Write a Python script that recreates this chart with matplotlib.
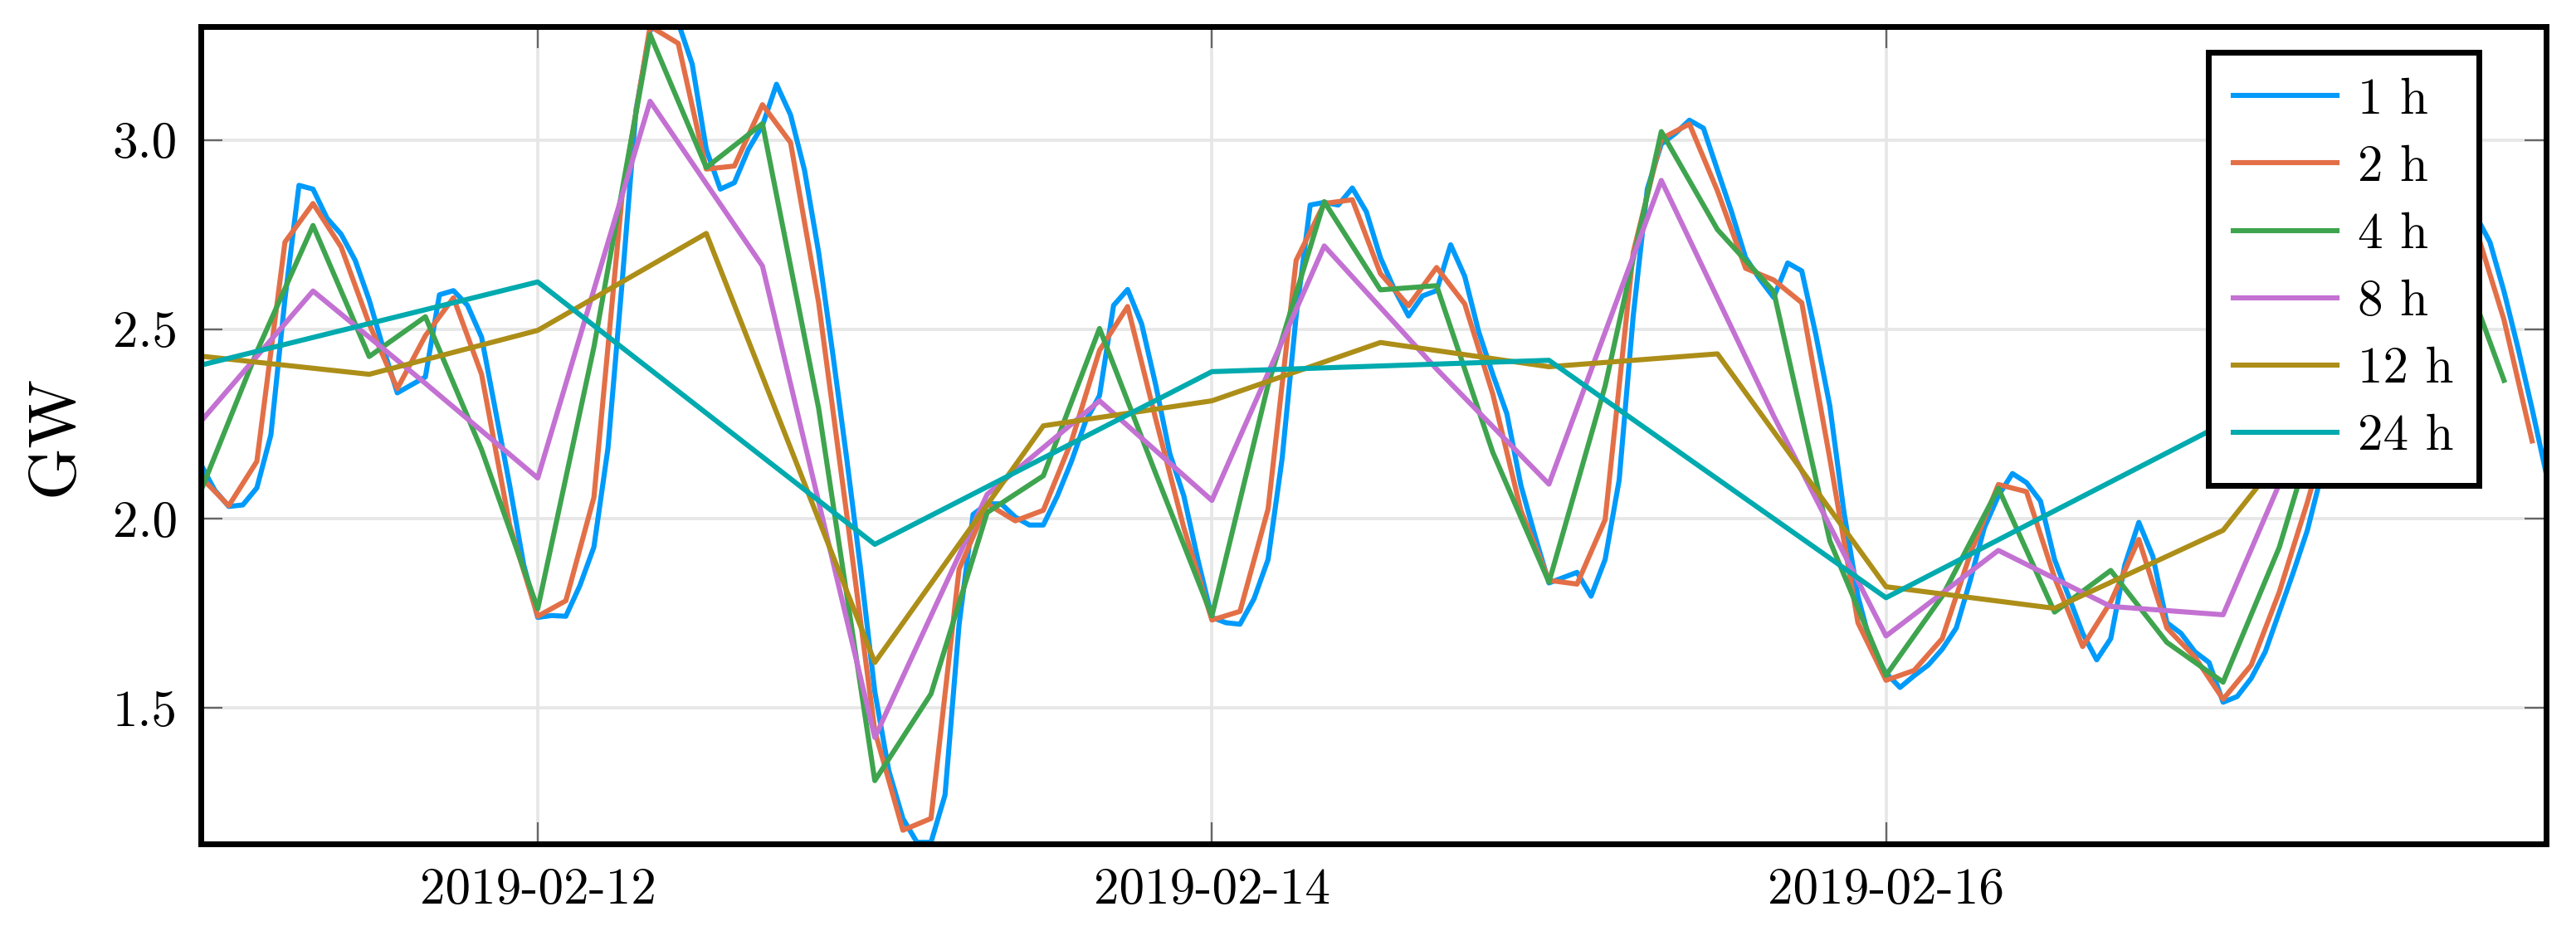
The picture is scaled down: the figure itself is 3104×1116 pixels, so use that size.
import pandas as pd
import matplotlib
matplotlib.use('Agg')
import matplotlib.pyplot as plt
import matplotlib.dates as mdates

plt.rcParams['font.family'] = ['cmr10', 'DejaVu Serif']
plt.rcParams['mathtext.fontset'] = 'cm'
plt.rcParams['axes.formatter.use_mathtext'] = True

start = '2019-02-11 00:00'

load_1h = [
    2.144, 2.075, 2.032, 2.036, 2.081, 2.221, 2.580, 2.880, 2.870, 2.793, 2.751, 2.682,
    2.577, 2.450, 2.332, 2.353, 2.374, 2.591, 2.602, 2.563, 2.479, 2.283, 2.088, 1.878,
    1.739, 1.744, 1.742, 1.823, 1.925, 2.186, 2.620, 3.080, 3.290, 3.310, 3.310, 3.200,
    2.975, 2.870, 2.887, 2.975, 3.038, 3.147, 3.066, 2.919, 2.703, 2.437, 2.158, 1.864,
    1.543, 1.334, 1.208, 1.145, 1.145, 1.270, 1.720, 2.011, 2.039, 2.039, 2.004, 1.983,
    1.983, 2.060, 2.151, 2.256, 2.325, 2.563, 2.605, 2.514, 2.353, 2.172, 2.060, 1.892,
    1.739, 1.725, 1.721, 1.788, 1.892, 2.158, 2.535, 2.828, 2.835, 2.828, 2.873, 2.810,
    2.689, 2.605, 2.535, 2.588, 2.602, 2.723, 2.640, 2.493, 2.381, 2.277, 2.088, 1.955,
    1.830, 1.844, 1.858, 1.795, 1.892, 2.102, 2.535, 2.870, 2.989, 3.017, 3.052, 3.031,
    2.920, 2.810, 2.689, 2.633, 2.584, 2.675, 2.654, 2.486, 2.297, 2.018, 1.795, 1.655,
    1.592, 1.554, 1.585, 1.613, 1.655, 1.711, 1.837, 1.976, 2.060, 2.119, 2.095, 2.046,
    1.892, 1.795, 1.697, 1.627, 1.683, 1.877, 1.990, 1.900, 1.725, 1.697, 1.648, 1.620,
    1.515, 1.530, 1.578, 1.648, 1.753, 1.858, 1.969, 2.116, 2.250, 2.360, 2.470, 2.580,
    2.520, 2.440, 2.400, 2.470, 2.760, 2.790, 2.800, 2.730, 2.600, 2.450, 2.290, 2.120,
]

load_2h = [
    2.110, 2.034, 2.151, 2.730, 2.832, 2.717, 2.514, 2.343, 2.483, 2.583, 2.381, 1.983,
    1.742, 1.783, 2.056, 2.850, 3.300, 3.255, 2.923, 2.931, 3.093, 2.993, 2.570, 2.011,
    1.439, 1.177, 1.208, 1.866, 2.039, 1.994, 2.022, 2.204, 2.444, 2.560, 2.263, 1.976,
    1.732, 1.755, 2.025, 2.682, 2.832, 2.842, 2.647, 2.562, 2.663, 2.567, 2.329, 2.022,
    1.837, 1.827, 1.997, 2.703, 3.003, 3.042, 2.865, 2.661, 2.630, 2.570, 2.158, 1.725,
    1.573, 1.599, 1.683, 1.907, 2.090, 2.071, 1.844, 1.662, 1.780, 1.945, 1.711, 1.634,
    1.523, 1.613, 1.806, 2.043, 2.305, 2.525, 2.480, 2.435, 2.775, 2.765, 2.525, 2.205,
]

load_4h = [
    2.072, 2.441, 2.774, 2.428, 2.533, 2.182, 1.762, 2.453, 3.278, 2.927, 3.043, 2.291,
    1.308, 1.537, 2.016, 2.113, 2.502, 2.119, 1.743, 2.353, 2.837, 2.604, 2.615, 2.175,
    1.832, 2.350, 3.022, 2.763, 2.600, 1.941, 1.586, 1.795, 2.080, 1.753, 1.863, 1.673,
    1.568, 1.924, 2.415, 2.458, 2.770, 2.365,
]

load_8h = [
    2.256, 2.601, 2.357, 2.107, 3.102, 2.667, 1.422, 2.064, 2.311, 2.048, 2.720, 2.395,
    2.091, 2.893, 2.271, 1.690, 1.916, 1.768, 1.746, 2.436, 2.568,
]

load_12h = [2.429, 2.381, 2.497, 2.753, 1.620, 2.245, 2.311, 2.465, 2.401, 2.435,
            1.820, 1.763, 1.969, 2.531]

load_24h = [2.405, 2.625, 1.932, 2.388, 2.418, 1.791, 2.250]

series = [
    ('1 h', '1h', load_1h, '#009AFA'),
    ('2 h', '2h', load_2h, '#E36F47'),
    ('4 h', '4h', load_4h, '#3EA44E'),
    ('8 h', '8h', load_8h, '#C371D2'),
    ('12 h', '12h', load_12h, '#AC8E18'),
    ('24 h', '24h', load_24h, '#00AAAE'),
]

fig = plt.figure(figsize=(15.52, 5.58), dpi=200)
ax = fig.add_axes([0.0779, 0.0883, 0.9105, 0.8833])

for label, freq, values, color in series:
    t = pd.date_range(start, periods=len(values), freq=freq)
    ax.plot(t, values, color=color, lw=2.2, label=label)

t1 = pd.date_range(start, periods=len(load_1h), freq='1h')
ax.set_xlim(t1[0], t1[-1])
ax.set_ylim(1.14, 3.30)

ax.set_xticks(pd.to_datetime(['2019-02-12', '2019-02-14', '2019-02-16']))
ax.xaxis.set_major_formatter(mdates.DateFormatter('%Y-%m-%d'))
ax.set_yticks([1.5, 2.0, 2.5, 3.0])
ax.set_yticklabels(['1.5', '2.0', '2.5', '3.0'])

ax.grid(True, color='#e6e6e6', lw=1.3)
ax.set_axisbelow(True)
ax.tick_params(direction='in', length=9.5, width=0.8, color='#666666',
               top=True, right=True, labelsize=22, pad=10)
for sp in ax.spines.values():
    sp.set_linewidth(2.5)
    sp.set_color('black')

ax.text(-0.062, 0.5, 'GW', transform=ax.transAxes, rotation=90,
        ha='center', va='center', fontsize=29)

leg = ax.legend(loc='upper right', bbox_to_anchor=(0.9713, 0.9683),
                borderaxespad=0, fontsize=22, handlelength=2.05,
                handletextpad=0.4, labelspacing=0.42, borderpad=0.5,
                fancybox=False, framealpha=1)
leg.get_frame().set_edgecolor('black')
leg.get_frame().set_linewidth(2.5)

fig.savefig('out.png', dpi=200)
